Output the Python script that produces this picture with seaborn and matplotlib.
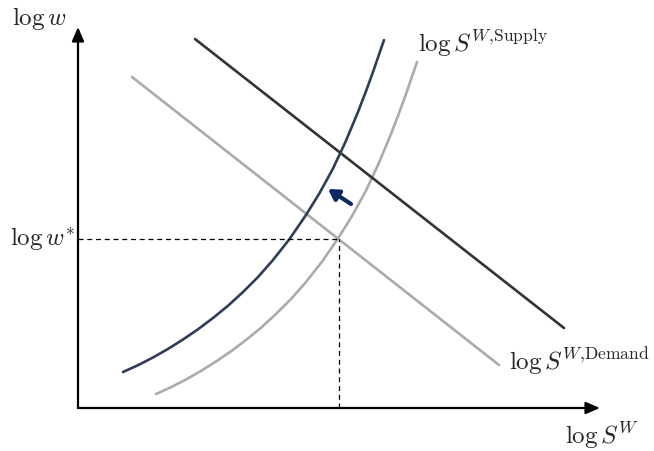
import matplotlib
matplotlib.use("Agg")
import matplotlib.pyplot as plt
import seaborn as sns
import pandas as pd

# Labour-market diagram: wage against worker supply (log scales, schematic units)
demand_x = [1.08, 8.42]
demand_y = [6.62, 0.86]

demand_new_x = [2.34, 9.72]
demand_new_y = [7.38, 1.60]

supply_x = [1.56, 1.86, 2.16, 2.46, 2.76, 3.06, 3.36, 3.66, 3.96, 4.26, 4.56,
            4.89, 5.22, 5.49, 5.76, 6.01, 6.26, 6.41, 6.56, 6.67, 6.78]
supply_y = [0.28, 0.416, 0.57, 0.741, 0.93, 1.134, 1.36, 1.605, 1.88, 2.179, 2.52,
            2.939, 3.42, 3.856, 4.35, 4.883, 5.48, 5.87, 6.28, 6.60, 6.92]

supply_new_x = [0.90, 1.20, 1.50, 1.80, 2.10, 2.40, 2.70, 3.00, 3.30, 3.60, 3.90,
                4.23, 4.56, 4.83, 5.10, 5.35, 5.60, 5.75, 5.90, 6.01, 6.12]
supply_new_y = [0.72, 0.856, 1.01, 1.181, 1.37, 1.574, 1.80, 2.045, 2.32, 2.619, 2.96,
                3.379, 3.86, 4.296, 4.79, 5.323, 5.92, 6.31, 6.72, 7.04, 7.36]

eq_x = 5.22
eq_w = 3.38

shift_from = (5.46, 4.08)
shift_to = (5.00, 4.38)

x_max, y_max = 10.44, 7.62

sns.set_theme(style="white")
plt.rcParams["mathtext.fontset"] = "cm"
plt.rcParams["font.family"] = ["DejaVu Serif"]

fig = plt.figure(figsize=(6.54, 4.51), dpi=100)
ax = fig.add_axes([78 / 654, 43 / 451, 522 / 654, 381 / 451])
ax.set_xlim(0, x_max)
ax.set_ylim(0, y_max)
ax.axis("off")

def draw(xs, ys, color):
    df = pd.DataFrame({"x": xs, "y": ys})
    sns.lineplot(data=df, x="x", y="y", ax=ax, color=color, lw=1.9,
                 sort=False, estimator=None, clip_on=False)

draw(demand_x, demand_y, "#ababab")
draw(supply_x, supply_y, "#ababab")
draw(demand_new_x, demand_new_y, "#333333")
draw(supply_new_x, supply_new_y, "#2f3d58")

# equilibrium guides
ax.plot([0, eq_x], [eq_w, eq_w], color="black", lw=0.9, ls=(0, (4, 3)))
ax.plot([eq_x, eq_x], [0, eq_w], color="black", lw=0.9, ls=(0, (4, 3)))

# axes with arrow heads
arrow_kw = dict(arrowstyle="-|>,head_length=0.7,head_width=0.3", color="black",
                lw=1.6, shrinkA=0, shrinkB=0)
ax.annotate("", xy=(x_max, 0), xytext=(0, 0), arrowprops=arrow_kw, annotation_clip=False)
ax.annotate("", xy=(0, y_max), xytext=(0, 0), arrowprops=arrow_kw, annotation_clip=False)

# shift of supply
ax.annotate("", xy=shift_to, xytext=shift_from,
            arrowprops=dict(arrowstyle="-|>,head_length=0.5,head_width=0.3",
                            color="#0b2a63", lw=3, shrinkA=0, shrinkB=0))

fs = 18
ax.text(-1.32, 7.66, r"$\log w$", fontsize=fs, ha="left", va="baseline", clip_on=False)
ax.text(-1.36, 3.26, r"$\log w^{*}$", fontsize=fs, ha="left", va="baseline", clip_on=False)
ax.text(6.80, 7.12, r"$\log S^{W{,}\mathrm{Supply}}$", fontsize=fs, ha="left", va="baseline", clip_on=False)
ax.text(8.62, 0.76, r"$\log S^{W{,}\mathrm{Demand}}$", fontsize=fs, ha="left", va="baseline", clip_on=False)
ax.text(9.74, -0.72, r"$\log S^{W}$", fontsize=fs, ha="left", va="baseline", clip_on=False)

fig.savefig("out.png", dpi=100, facecolor="white")
